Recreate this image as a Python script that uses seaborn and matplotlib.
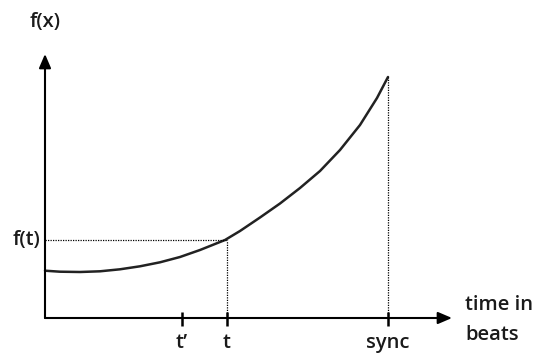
import matplotlib
matplotlib.use("Agg")
import matplotlib.pyplot as plt
import seaborn as sns
import pandas as pd

# curve samples (time units, f units)
time_vals = [0, 15, 35, 55, 75, 95, 115, 135, 155, 180, 195, 215, 235, 255, 275, 295, 315, 332, 343]
f_vals = [47.3, 46.3, 46, 46.7, 48.7, 51.7, 55.7, 61, 68, 78, 87, 100.5, 114.5, 130, 147, 168, 193, 220, 241]

tick_labels = ["t\u2019", "t", "sync"]
tick_pos = [137, 182, 343]
f_t = 78
f_sync = 241

sns.set_theme(style="white")
plt.rcParams["font.family"] = ["Open Sans", "DejaVu Sans"]

fig = plt.figure(figsize=(5.49, 3.57), dpi=100)
ax = fig.add_axes([0, 0, 1, 1])
ax.set_xlim(-45, 504)
ax.set_ylim(-39, 318)
ax.axis("off")

df = pd.DataFrame({"time": time_vals, "f": f_vals})
sns.lineplot(data=df, x="time", y="f", ax=ax, color="#222222", linewidth=1.8)

# axes with arrows
ax.annotate("", xy=(407, 0), xytext=(0, 0),
            arrowprops=dict(arrowstyle="-|>,head_length=0.7,head_width=0.3",
                            color="black", lw=1.5, shrinkA=0, shrinkB=0))
ax.annotate("", xy=(0, 264), xytext=(0, 0),
            arrowprops=dict(arrowstyle="-|>,head_length=0.7,head_width=0.3",
                            color="black", lw=1.5, shrinkA=0, shrinkB=0))

# tick marks
for p in tick_pos:
    ax.plot([p, p], [-8, 6], color="black", lw=1.8, solid_capstyle="butt")

# dotted guides
ax.plot([182, 182], [0, f_t], color="black", lw=0.9, linestyle=(0, (1, 1)))
ax.plot([0, 182], [f_t, f_t], color="black", lw=0.9, linestyle=(0, (1, 1)))
ax.plot([343, 343], [0, f_sync], color="black", lw=0.9, linestyle=(0, (1, 1)))

fs = 14.5
tc = "#1a1a1a"
fw = "semibold"
for p, lab in zip(tick_pos, tick_labels):
    ax.text(p, -25, lab, ha="center", va="center", fontsize=fs, color=tc, fontweight=fw)
ax.text(-5, f_t, "f(t)", ha="right", va="center", fontsize=fs, color=tc, fontweight=fw)
ax.text(0, 296, "f(x)", ha="center", va="center", fontsize=fs, color=tc, fontweight=fw)
ax.text(420, 13, "time in", ha="left", va="center", fontsize=fs, color=tc, fontweight=fw)
ax.text(420, -17, "beats", ha="left", va="center", fontsize=fs, color=tc, fontweight=fw)

fig.savefig("out.png", dpi=100, facecolor="white")
